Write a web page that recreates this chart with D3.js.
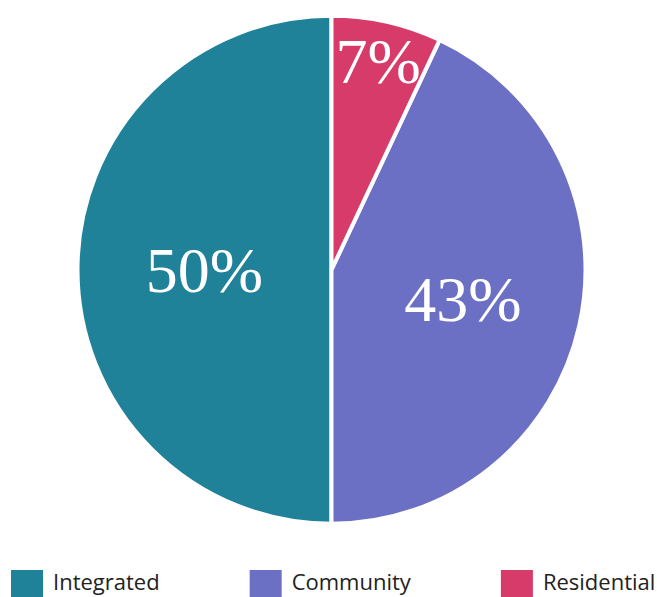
<!DOCTYPE html>
<html>
<head>
<meta charset="utf-8">
<script src="https://cdn.jsdelivr.net/npm/d3@7/dist/d3.min.js"></script>
<style>
  html, body { margin: 0; padding: 0; background: #ffffff; }
  svg { display: block; }
</style>
</head>
<body>
<svg id="chart" width="657" height="597"></svg>
<script>
// Share of placements by setting
const categories = ["Integrated", "Community", "Residential"];
const shares = [50, 43, 7];
const colors = ["#1f8299", "#6b70c4", "#d63b6a"];

const width = 657, height = 597;
const cx = 331.5, cy = 269.75;
const radius = 254;

const svg = d3.select("#chart");

const color = d3.scaleOrdinal().domain(categories).range(colors);

const data = categories.map((c, i) => ({ category: c, value: shares[i] }));

// Slices run counter-clockwise from 12 o'clock in legend order,
// so the last category sits just clockwise of the top.
const pie = d3.pie()
  .sort(null)
  .value(d => d.value)
  .startAngle(2 * Math.PI)
  .endAngle(0);

const arcs = pie(data);

const arc = d3.arc().innerRadius(0).outerRadius(radius);

const g = svg.append("g").attr("transform", `translate(${cx},${cy})`);

g.selectAll("path.slice")
  .data(arcs)
  .join("path")
  .attr("class", "slice")
  .attr("d", arc)
  .attr("fill", d => color(d.data.category))
  .attr("stroke", "#ffffff")
  .attr("stroke-width", 4)
  .attr("stroke-linejoin", "miter");

// Percentage labels; narrow slices get their label pushed outward
const labelArc = d => {
  const k = d.data.value < 10 ? 0.84 : (d.data.value < 50 ? 0.53 : 0.5);
  return d3.arc().innerRadius(radius * k).outerRadius(radius * k).centroid(d);
};

g.selectAll("text.pct")
  .data(arcs)
  .join("text")
  .attr("class", "pct")
  .attr("x", d => labelArc(d)[0])
  .attr("y", d => labelArc(d)[1])
  .attr("dy", "0.34em")
  .attr("text-anchor", "middle")
  .attr("fill", "#ffffff")
  .attr("font-family", "'Liberation Serif', 'Times New Roman', serif")
  .attr("font-size", 64)
  .text(d => d.data.value + "%");

// Legend along the bottom edge
const legend = svg.append("g").attr("class", "legend");
let lx = 11;
const swatch = 32, gapText = 10, gapItem = 90;
categories.forEach((c, i) => {
  const item = legend.append("g").attr("transform", `translate(${lx},0)`);
  item.append("rect")
    .attr("x", 0).attr("y", 570)
    .attr("width", swatch).attr("height", swatch)
    .attr("fill", color(c));
  const t = item.append("text")
    .attr("x", swatch + gapText)
    .attr("y", 590)
    .attr("fill", "#222222")
    .attr("font-family", "'Open Sans', sans-serif")
    .attr("font-size", 22)
    .text(c);
  const w = t.node().getComputedTextLength();
  lx += swatch + gapText + w + gapItem;
});
</script>
</body>
</html>
